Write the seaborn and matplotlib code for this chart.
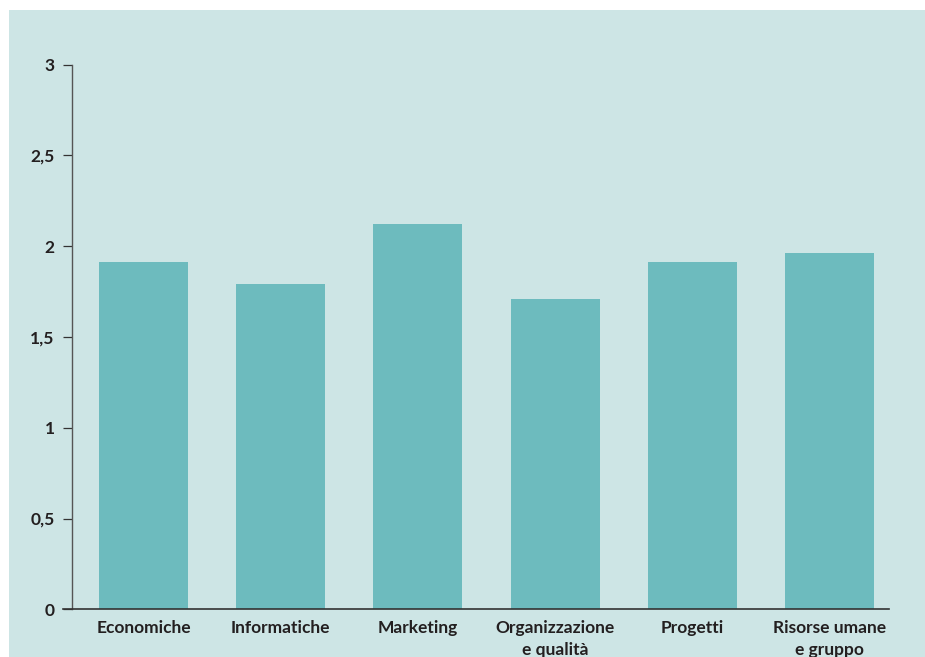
import matplotlib
matplotlib.use("Agg")
import matplotlib.pyplot as plt
from matplotlib.patches import Rectangle
import seaborn as sns
import pandas as pd

categories = ["Economiche", "Informatiche", "Marketing",
              "Organizzazione\ne qualità", "Progetti", "Risorse umane\ne gruppo"]
values = [1.91, 1.79, 2.12, 1.71, 1.91, 1.96]
yticks = [0, 0.5, 1, 1.5, 2, 2.5, 3]
ytick_labels = ["0", "0,5", "1", "1,5", "2", "2,5", "3"]

BG = "#cde5e5"
BAR = "#6dbbbe"
INK = "#231f20"

sns.set_style("white")
plt.rcParams["font.family"] = ["Lato", "DejaVu Sans"]

W, H = 925, 657
fig = plt.figure(figsize=(W / 100, H / 100), dpi=100, facecolor="white")
# tinted panel behind the chart
fig.patches.append(Rectangle((9 / W, 0), 1 - 9 / W, (H - 10) / H,
                             transform=fig.transFigure, facecolor=BG,
                             edgecolor="none", zorder=-10))

left, right = 63 / W, 889 / W
bottom, top = (H - 609.3) / H, (H - 64.5) / H
ax = fig.add_axes([left, bottom, right - left, top - bottom])
ax.set_facecolor("none")

df = pd.DataFrame({"cat": categories, "val": values})
sns.barplot(data=df, x="cat", y="val", color=BAR, saturation=1,
            width=0.649, linewidth=0, edgecolor="none", ax=ax, zorder=2)

ax.set_xlim(-0.587, 5.434)
ax.set_ylim(0, 3)
ax.set_xlabel("")
ax.set_ylabel("")

for s in ["top", "right"]:
    ax.spines[s].set_visible(False)
ax.spines["left"].set_position(("data", -0.521))
ax.spines["left"].set_color("#555555")
ax.spines["left"].set_linewidth(1.0)
ax.spines["bottom"].set_color("#333333")
ax.spines["bottom"].set_linewidth(1.2)

ax.set_yticks(yticks)
ax.set_yticklabels(ytick_labels, fontsize=12.5, fontweight="bold", color=INK)
ax.tick_params(axis="y", direction="out", length=6.5, width=0.9,
               color="#333333", pad=6, left=True)
ax.tick_params(axis="x", length=0, pad=8)
for lbl in ax.get_xticklabels():
    lbl.set_fontsize(12.5)
    lbl.set_fontweight("bold")
    lbl.set_color(INK)
    lbl.set_linespacing(1.4)
    lbl.set_verticalalignment("top")

fig.savefig("out.png", dpi=100, facecolor="white")
